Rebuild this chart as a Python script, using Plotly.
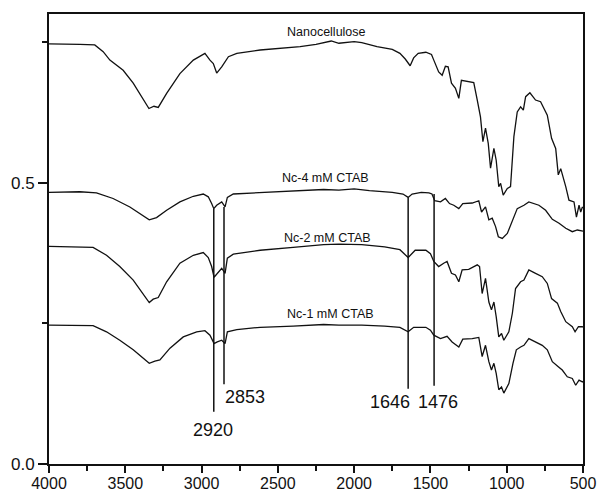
import plotly.graph_objects as go

# ---- data ----
nano_wn = [4000, 3900, 3798, 3700, 3645, 3601, 3514, 3448, 3383, 3345, 3312, 3284, 3229, 3142, 3054, 2978,
           2945, 2923, 2901, 2868, 2824, 2769, 2616, 2450, 2354, 2250, 2150, 2100, 2000, 1950, 1850, 1750,
           1700, 1665, 1633, 1610, 1580, 1530, 1493, 1478, 1446, 1423, 1402, 1384, 1362, 1336, 1314, 1297,
           1270, 1216, 1193, 1172, 1156, 1139, 1121, 1106, 1084, 1069, 1052, 1040, 1023, 996, 975, 953, 931,
           909, 891, 876, 848, 811, 778, 734, 706, 679, 662, 646, 613, 592, 559, 543, 526, 515, 504, 500]
nano_ab = [0.747, 0.747, 0.746, 0.745, 0.733, 0.718, 0.700, 0.677, 0.647, 0.632, 0.636, 0.634, 0.659, 0.694,
           0.718, 0.730, 0.718, 0.712, 0.695, 0.706, 0.724, 0.730, 0.736, 0.740, 0.742, 0.746, 0.752, 0.748,
           0.751, 0.749, 0.742, 0.737, 0.730, 0.720, 0.708, 0.722, 0.730, 0.732, 0.728, 0.718, 0.697, 0.691,
           0.707, 0.706, 0.677, 0.668, 0.650, 0.682, 0.681, 0.678, 0.647, 0.617, 0.573, 0.597, 0.570, 0.526,
           0.561, 0.540, 0.493, 0.499, 0.478, 0.490, 0.493, 0.582, 0.626, 0.635, 0.629, 0.653, 0.660, 0.647,
           0.644, 0.620, 0.579, 0.561, 0.514, 0.525, 0.493, 0.469, 0.466, 0.439, 0.460, 0.448, 0.457, 0.455]

nc4_wn = [4000, 3798, 3689, 3580, 3470, 3393, 3343, 3295, 3229, 3142, 3054, 2989, 2956, 2934, 2920, 2901,
          2883, 2868, 2846, 2831, 2792, 2616, 2400, 2200, 2100, 2000, 1900, 1750, 1680, 1646, 1620, 1560,
          1510, 1490, 1472, 1434, 1402, 1375, 1347, 1314, 1288, 1226, 1183, 1165, 1139, 1117, 1095, 1073,
          1055, 1029, 996, 963, 931, 887, 855, 789, 745, 701, 657, 613, 570, 537, 504, 500]
nc4_ab = [0.483, 0.484, 0.482, 0.472, 0.457, 0.443, 0.434, 0.438, 0.451, 0.466, 0.476, 0.480, 0.475, 0.463,
          0.454, 0.460, 0.463, 0.466, 0.457, 0.474, 0.480, 0.482, 0.485, 0.488, 0.487, 0.489, 0.486, 0.483,
          0.480, 0.474, 0.480, 0.483, 0.482, 0.480, 0.468, 0.466, 0.472, 0.463, 0.460, 0.454, 0.463, 0.464,
          0.468, 0.448, 0.457, 0.434, 0.437, 0.422, 0.404, 0.401, 0.410, 0.434, 0.454, 0.460, 0.466, 0.460,
          0.451, 0.435, 0.428, 0.419, 0.413, 0.416, 0.413, 0.414]

nc2_wn = [4000, 3798, 3711, 3623, 3536, 3448, 3383, 3343, 3317, 3284, 3229, 3142, 3054, 2989, 2956, 2934,
          2918, 2901, 2868, 2846, 2831, 2792, 2616, 2400, 2200, 2100, 1950, 1800, 1700, 1646, 1600, 1530,
          1500, 1478, 1446, 1413, 1391, 1362, 1336, 1314, 1292, 1249, 1193, 1178, 1161, 1139, 1117, 1100,
          1084, 1069, 1052, 1034, 1019, 986, 963, 942, 909, 887, 855, 811, 767, 734, 706, 668, 646, 613,
          570, 552, 530, 504, 500]
nc2_ab = [0.387, 0.386, 0.385, 0.371, 0.351, 0.327, 0.303, 0.287, 0.293, 0.296, 0.324, 0.357, 0.371, 0.376,
          0.367, 0.351, 0.332, 0.338, 0.348, 0.339, 0.366, 0.373, 0.380, 0.385, 0.390, 0.391, 0.390, 0.386,
          0.381, 0.367, 0.380, 0.380, 0.374, 0.360, 0.351, 0.357, 0.360, 0.339, 0.336, 0.324, 0.345, 0.346,
          0.354, 0.351, 0.303, 0.330, 0.288, 0.274, 0.288, 0.262, 0.226, 0.232, 0.220, 0.235, 0.268, 0.312,
          0.324, 0.327, 0.345, 0.339, 0.333, 0.321, 0.294, 0.286, 0.271, 0.253, 0.244, 0.235, 0.244, 0.244,
          0.243]

nc1_wn = [4000, 3798, 3711, 3623, 3536, 3448, 3383, 3343, 3306, 3273, 3207, 3120, 3032, 2978, 2945, 2918,
          2897, 2868, 2846, 2831, 2769, 2616, 2400, 2200, 2100, 1950, 1800, 1700, 1646, 1610, 1530, 1500,
          1478, 1434, 1391, 1358, 1314, 1288, 1226, 1183, 1161, 1139, 1117, 1100, 1084, 1069, 1052, 1034,
          1019, 986, 959, 937, 909, 887, 855, 811, 767, 734, 701, 662, 636, 603, 570, 548, 526, 504, 500]
nc1_ab = [0.247, 0.247, 0.246, 0.235, 0.220, 0.203, 0.188, 0.179, 0.183, 0.185, 0.206, 0.226, 0.235, 0.237,
          0.229, 0.214, 0.217, 0.220, 0.214, 0.235, 0.239, 0.243, 0.245, 0.248, 0.247, 0.247, 0.245, 0.243,
          0.235, 0.243, 0.243, 0.238, 0.229, 0.223, 0.227, 0.217, 0.208, 0.222, 0.223, 0.225, 0.191, 0.211,
          0.182, 0.167, 0.179, 0.161, 0.132, 0.137, 0.126, 0.143, 0.179, 0.203, 0.208, 0.211, 0.223, 0.217,
          0.211, 0.203, 0.182, 0.173, 0.167, 0.155, 0.152, 0.140, 0.149, 0.146, 0.147]

series_names = ["Nanocellulose", "Nc-4 mM CTAB", "Nc-2 mM CTAB", "Nc-1 mM CTAB"]
name_x = [2180, 2190, 2176, 2157]
name_y = [0.768, 0.508, 0.402, 0.267]

peak_wn = [2920, 2853, 1646, 1476]
peak_top = [0.454, 0.457, 0.474, 0.480]
peak_bottom = [0.093, 0.142, 0.134, 0.139]
peak_label_x = [2922, 2715, 1765, 1448]
peak_label_y = [0.060, 0.120, 0.111, 0.111]

FONT = "Liberation Sans, Arial, sans-serif"

fig = go.Figure()
for wn, ab in [(nano_wn, nano_ab), (nc4_wn, nc4_ab), (nc2_wn, nc2_ab), (nc1_wn, nc1_ab)]:
    fig.add_trace(go.Scatter(x=wn, y=ab, mode="lines",
                             line=dict(color="#111111", width=1.3), showlegend=False,
                             hoverinfo="skip"))

# vertical marker lines
lx, ly = [], []
for w, t, b in zip(peak_wn, peak_top, peak_bottom):
    lx += [w, w, None]
    ly += [t, b, None]
fig.add_trace(go.Scatter(x=lx, y=ly, mode="lines", line=dict(color="#111111", width=1.5),
                         showlegend=False, hoverinfo="skip"))

for name, x, y in zip(series_names, name_x, name_y):
    fig.add_annotation(x=x, y=y, text=name, showarrow=False,
                       font=dict(family=FONT, size=12.5, color="#111111"))
for w, x, y in zip(peak_wn, peak_label_x, peak_label_y):
    fig.add_annotation(x=x, y=y, text=str(w), showarrow=False,
                       font=dict(family=FONT, size=18, color="#111111"))

fig.update_layout(
    width=598, height=494,
    margin=dict(l=49, r=15, t=14, b=30, autoexpand=False),
    paper_bgcolor="white", plot_bgcolor="white",
    font=dict(family=FONT, size=17, color="#111111"),
)
fig.update_xaxes(range=[4000, 500], tickvals=[4000, 3500, 3000, 2500, 2000, 1500, 1000, 500],
                 ticks="outside", ticklen=7, tickwidth=1.5, tickcolor="#111111",
                 minor=dict(tickvals=[3750, 3250, 2750, 2250, 1750, 1250, 750], ticks="outside",
                            ticklen=5, tickwidth=1.5, tickcolor="#111111"),
                 showline=True, linewidth=2, linecolor="#111111", mirror=True, automargin=False,
                 showgrid=False, zeroline=False, tickfont=dict(size=16), ticklabelstandoff=-3)
fig.update_yaxes(range=[0, 0.8], tickvals=[0.0, 0.5], ticktext=["0.0", "0.5"],
                 ticks="outside", ticklen=9, tickwidth=1.5, tickcolor="#111111",
                 minor=dict(tickvals=[0.25, 0.75], ticks="outside", ticklen=5, tickwidth=1.5,
                            tickcolor="#111111"),
                 showline=True, linewidth=2, linecolor="#111111", mirror=True, automargin=False,
                 showgrid=False, zeroline=False, tickfont=dict(size=17))

fig.write_html("out.html")
